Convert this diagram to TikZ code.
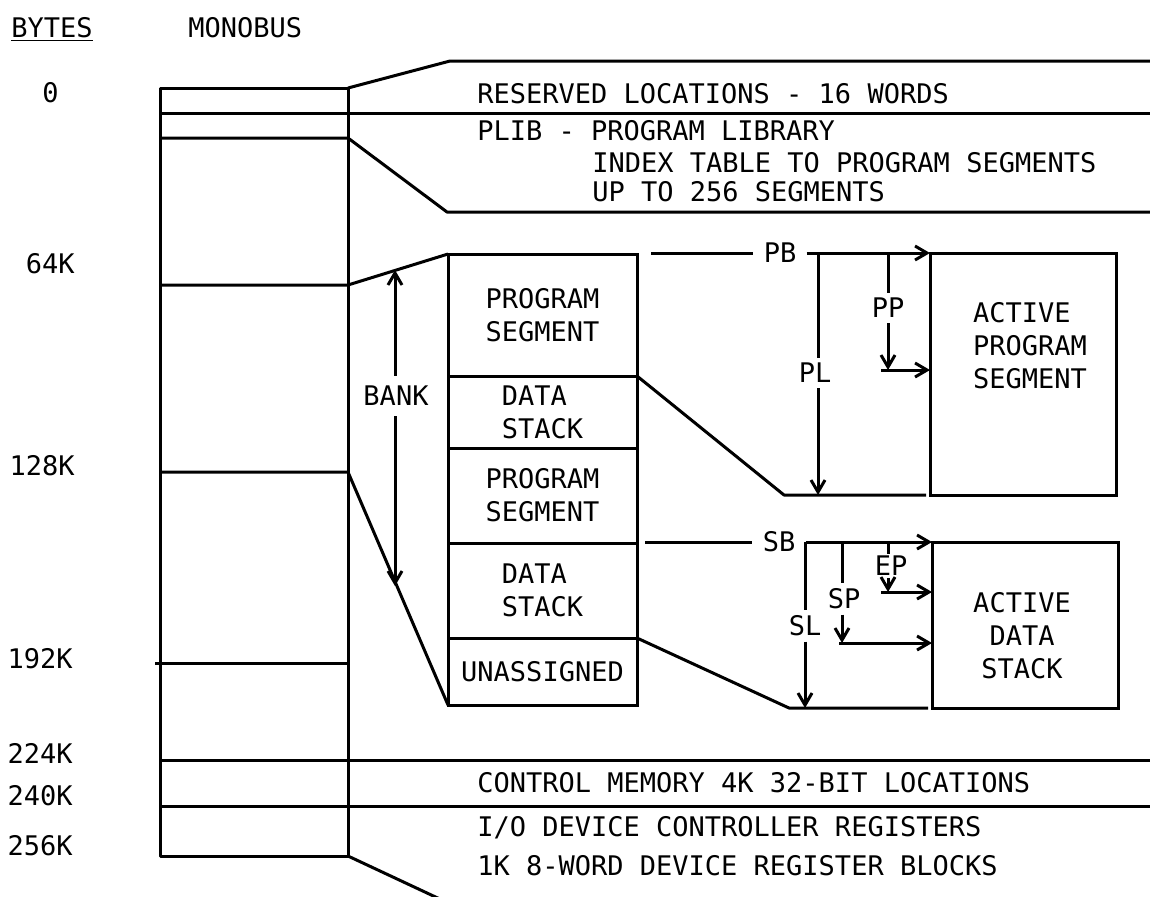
\documentclass[tikz,border=0pt]{standalone}
\usepackage{fontspec}
\setmonofont{DejaVu Sans Mono}
\usetikzlibrary{arrows.meta,positioning}

\begin{document}
\begin{tikzpicture}[
  x=0.5pt, y=-0.5pt,
  every node/.style={font=\ttfamily\fontsize{13.5}{16.5}\selectfont, inner sep=0pt},
  memLine/.style={line width=1.5pt, line join=round},
  ptrArrow/.style={memLine, -{Straight Barb[length=6pt,width=7pt]}},
  segBox/.style={draw, line width=1.5pt, minimum width=94.5pt, inner sep=2pt,
    outer sep=0pt, align=center},
  activeBox/.style={draw, line width=1.5pt, minimum width=93pt, outer sep=0pt},
  ptrLabel/.style={inner xsep=5pt, inner ysep=2.5pt},
  mapText/.style={anchor=base west},
  byteLabel/.style={anchor=base east}
]
\useasboundingbox (0,0) rectangle (1150,896);

\node[anchor=base west] (bytesHead) at (11,37) {\underline{BYTES}};
\node[anchor=base west] (monobusHead) at (188,37) {MONOBUS};

\node[byteLabel] (b0) at (59,102) {0};
\node[byteLabel] (b64) at (75,273) {64K};
\node[byteLabel] (b128) at (75,475) {128K};
\node[byteLabel] (b192) at (73,668) {192K};
\node[byteLabel] (b224) at (73,763) {224K};
\node[byteLabel] (b240) at (73,805) {240K};
\node[byteLabel] (b256) at (73,855) {256K};

\coordinate (mTop) at (160,88);
\coordinate (mTopR) at (348,88);
\coordinate (resTop) at (450,61);
\coordinate (resTopEnd) at (1150,61);
\coordinate (mRes) at (160,113);
\coordinate (mResEnd) at (1150,113);
\coordinate (mPlib) at (160,138);
\coordinate (mPlibR) at (348,138);
\coordinate (plibFoot) at (447,212);
\coordinate (plibEnd) at (1150,212);
\coordinate (m64) at (160,285);
\coordinate (m64R) at (348,285);
\coordinate (m128) at (160,472);
\coordinate (m128R) at (348,472);
\coordinate (m192) at (155,663);
\coordinate (m192R) at (348,663);
\coordinate (m224) at (160,760);
\coordinate (m224End) at (1150,760);
\coordinate (m240) at (160,806);
\coordinate (m240End) at (1150,806);
\coordinate (mBotR) at (348,856);
\coordinate (ioFoot) at (442,900);

% Bank of segments
\node[segBox, minimum height=61pt] (progA) at (542.5,315) {PROGRAM\\SEGMENT};
\node[segBox, minimum height=36pt, align=left, below=0pt of progA] (dataA) {DATA\\STACK};
\node[segBox, minimum height=47.5pt, below=0pt of dataA] (progB) {PROGRAM\\SEGMENT};
\node[segBox, minimum height=47.5pt, align=left, below=0pt of progB] (dataB) {DATA\\STACK};
\node[segBox, minimum height=33.5pt, below=0pt of dataB] (unasg) {UNASSIGNED};

\node[activeBox, minimum height=121pt] (actProg) at (1023,374) {};
\node[align=left] (actProgText) at (1030,346) {ACTIVE\\PROGRAM\\SEGMENT};
\node[activeBox, minimum height=83pt] (actData) at (1025,625) {};
\node[align=center] (actDataText) at (1022,636) {ACTIVE\\DATA\\STACK};

\node[mapText] (resText) at (477,103) {RESERVED LOCATIONS - 16 WORDS};
\node[mapText] (plibText) at (477,140) {PLIB - PROGRAM LIBRARY};
\node[mapText] (plibIndex) at (592,172) {INDEX TABLE TO PROGRAM SEGMENTS};
\node[mapText] (plibLimit) at (592,201) {UP TO 256 SEGMENTS};
\node[mapText] (ctrlText) at (477,792) {CONTROL MEMORY 4K 32-BIT LOCATIONS};
\node[mapText] (ioText) at (477,836) {I/O DEVICE CONTROLLER REGISTERS};
\node[mapText] (ioBlocks) at (477,875) {1K 8-WORD DEVICE REGISTER BLOCKS};

% Memory column and its fan-outs
\draw[memLine] (mTop) rectangle (mBotR);
\draw[memLine] (mTopR) -- (resTop) -- (resTopEnd);
\draw[memLine] (mRes) -- (mResEnd);
\draw[memLine] (mPlib) -- (mPlibR) -- (plibFoot) -- (plibEnd);
\draw[memLine] (m64) -- (m64R) -- (progA.north west);
\draw[memLine] (m128) -- (m128R) -- (unasg.south west);
\draw[memLine] (m192) -- (m192R);
\draw[memLine] (m224) -- (m224End);
\draw[memLine] (m240) -- (m240End);
\draw[memLine] (mBotR) -- (ioFoot);

% Bank extent
\node[ptrLabel, inner ysep=5pt] (bankLbl) at (396,396) {BANK};
\coordinate (bankTop) at (395,270);
\coordinate (bankBot) at (395,586);
\draw[ptrArrow] (bankTop |- bankLbl.north) -- (bankTop);
\draw[ptrArrow] (bankTop |- bankLbl.south) -- (bankBot);

% Program segment registers
\node[ptrLabel] (pbLbl) at (780,253) {PB};
\node[ptrLabel] (plLbl) at (815,373) {PL};
\node[ptrLabel] (ppLbl) at (888,308) {PP};
\coordinate (pbStart) at (651,253);
\coordinate (plTop) at (818,253);
\coordinate (plEnd) at (818,495);
\coordinate (pgFoot) at (784,495);
\coordinate (ppTop) at (888,253);
\coordinate (ppTip) at (888,370);
\draw[memLine] (pbStart) -- (pbLbl.west);
\draw[ptrArrow] (pbLbl.east) -- (actProg.north west);
\draw[memLine] (plTop) -- (plTop |- plLbl.north);
\draw[ptrArrow] (plTop |- plLbl.south) -- (plEnd);
\draw[memLine] (ppTop) -- (ppLbl.north);
\draw[ptrArrow] (ppLbl.south) -- (ppTip);
\draw[ptrArrow] ([xshift=-3.5pt]ppTip) -- (ppTip -| actProg.west);
\draw[memLine] (dataA.north east) -- (pgFoot) -- ([xshift=-2pt]actProg.south west);

% Data stack registers
\node[ptrLabel] (sbLbl) at (779,542) {SB};
\node[ptrLabel] (slLbl) at (805,626) {SL};
\node[ptrLabel] (spLbl) at (844,599) {SP};
\node[ptrLabel, inner ysep=1pt] (epLbl) at (891,566) {EP};
\coordinate (sbStart) at (645,542);
\coordinate (slTop) at (805,542);
\coordinate (slTip) at (805,708);
\coordinate (dsFoot) at (789,708);
\coordinate (spTop) at (842,542);
\coordinate (spTip) at (842,643);
\coordinate (epTop) at (888,542);
\coordinate (epTip) at (888,592);
\draw[memLine] (sbStart) -- (sbLbl.west);
\draw[ptrArrow] (sbLbl.east) -- (actData.north west);
\draw[memLine] (slTop) -- (slLbl.north);
\draw[ptrArrow] (slLbl.south) -- (slTip);
\draw[memLine] (spTop) -- (spTop |- spLbl.north);
\draw[ptrArrow] (spTop |- spLbl.south) -- (spTip);
\draw[ptrArrow] ([xshift=-1.5pt]spTip) -- (spTip -| actData.west);
\draw[memLine] (epTop) -- (epTop |- epLbl.north);
\draw[ptrArrow] (epTop |- epLbl.south) -- (epTip);
\draw[ptrArrow] ([xshift=-3.5pt]epTip) -- (epTip -| actData.west);
\draw[memLine] (unasg.north east) -- (dsFoot) -- ([xshift=-2pt]actData.south west);
\end{tikzpicture}
\end{document}
